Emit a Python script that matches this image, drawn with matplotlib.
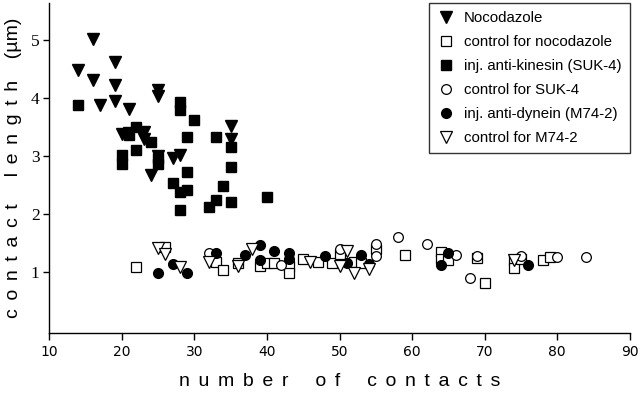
import matplotlib
matplotlib.use("Agg")
import matplotlib.pyplot as plt

# Nocodazole
noc_x = [16, 19, 14, 16, 19, 25, 25, 17, 19, 21, 20, 21, 23, 23, 35, 35, 25, 27, 28, 24]
noc_y = [5.03, 4.63, 4.48, 4.31, 4.22, 4.14, 4.03, 3.88, 3.95, 3.82, 3.39, 3.40, 3.42, 3.30, 3.52, 3.30,
         3.00, 2.96, 3.02, 2.68]

# control for nocodazole
cnoc_x = [22, 26, 33, 34, 36, 39, 40, 41, 43, 43, 45, 47, 49, 50, 52, 53, 55, 59, 64, 64, 65, 69, 70,
          74, 74, 75, 78, 79]
cnoc_y = [1.08, 1.44, 1.17, 1.04, 1.16, 1.10, 1.16, 1.16, 1.10, 0.99, 1.22, 1.17, 1.15, 1.32, 1.17,
          1.15, 1.39, 1.30, 1.35, 1.22, 1.21, 1.24, 0.82, 1.20, 1.07, 1.23, 1.20, 1.26]

# inj. anti-kinesin (SUK-4)
kin_x = [14, 28, 28, 30, 22, 21, 24, 29, 33, 35, 20, 20, 22, 25, 25, 29, 35, 27, 28, 29, 34, 33, 32,
         35, 28, 40]
kin_y = [3.88, 3.94, 3.79, 3.62, 3.51, 3.36, 3.25, 3.33, 3.33, 3.16, 3.02, 2.87, 3.10, 2.96, 2.87,
         2.73, 2.82, 2.53, 2.38, 2.42, 2.48, 2.24, 2.13, 2.21, 2.07, 2.29]

# control for SUK-4
csuk_x = [32, 42, 50, 55, 55, 58, 62, 66, 68, 69, 75, 80, 84]
csuk_y = [1.33, 1.13, 1.39, 1.48, 1.28, 1.61, 1.48, 1.30, 0.90, 1.27, 1.27, 1.26, 1.26]

# inj. anti-dynein (M74-2)
dyn_x = [25, 27, 29, 33, 37, 39, 39, 41, 43, 43, 48, 51, 53, 54, 64, 65, 76]
dyn_y = [0.98, 1.14, 0.99, 1.33, 1.30, 1.46, 1.21, 1.36, 1.33, 1.23, 1.27, 1.16, 1.29, 1.14, 1.13,
         1.33, 1.13]

# control for M74-2
cm_x = [25, 26, 28, 32, 36, 38, 46, 50, 51, 52, 54, 74]
cm_y = [1.41, 1.31, 1.08, 1.17, 1.11, 1.40, 1.17, 1.11, 1.37, 0.99, 1.05, 1.20]

fig = plt.figure(figsize=(6.4, 3.94), dpi=100)
ax = fig.add_axes([0.077, 0.155, 0.907, 0.837])

ax.plot(noc_x, noc_y, "v", color="black", ms=8.5, ls="none", label="Nocodazole")
ax.plot(cnoc_x, cnoc_y, "s", mfc="white", mec="black", mew=0.9, ms=6.5, ls="none",
        label="control for nocodazole")
ax.plot(kin_x, kin_y, "s", color="black", ms=6.5, ls="none", label="inj. anti-kinesin (SUK-4)")
ax.plot(csuk_x, csuk_y, "o", mfc="white", mec="black", mew=0.9, ms=7, ls="none",
        label="control for SUK-4")
ax.plot(dyn_x, dyn_y, "o", color="black", ms=7, ls="none", label="inj. anti-dynein (M74-2)")
ax.plot(cm_x, cm_y, "v", mfc="white", mec="black", mew=0.9, ms=8.5, ls="none",
        label="control for M74-2")

ax.set_xlim(10, 90)
ax.set_ylim(-0.05, 5.64)
ax.set_xticks(range(10, 91, 10))
ax.set_yticks([1, 2, 3, 4, 5])

for s in ["top", "right"]:
    ax.spines[s].set_visible(False)
ax.spines["left"].set_linewidth(1.0)
ax.spines["bottom"].set_linewidth(1.0)
ax.tick_params(axis="x", direction="out", length=5, width=1, labelsize=10, pad=4,
               labelfontfamily="Liberation Sans Narrow")
ax.tick_params(axis="y", direction="out", length=4, width=1, labelsize=12.5, pad=3,
               labelfontfamily="Liberation Serif")


def spaced(txt):
    # wide letter spacing like the original figure
    return "     ".join(" \u2006".join(w) for w in txt.split(" "))


ax.set_xlabel(spaced("number of contacts"), fontsize=14,
              family=["Liberation Sans", "DejaVu Sans"], labelpad=10)
ax.set_ylabel(spaced("contact length") + "    (\u00b5m)", fontsize=14,
              family=["Liberation Sans", "DejaVu Sans"], labelpad=6)

leg = ax.legend(loc="upper right", bbox_to_anchor=(1.0, 1.0), borderaxespad=0, frameon=True,
                fancybox=False, edgecolor="black", labelspacing=0.66,
                handletextpad=0.6, borderpad=0.55, handlelength=1.2,
                prop={"family": ["Liberation Sans", "DejaVu Sans"], "size": 10.8})
leg.get_frame().set_linewidth(1.0)

fig.savefig("out.png", dpi=100)
